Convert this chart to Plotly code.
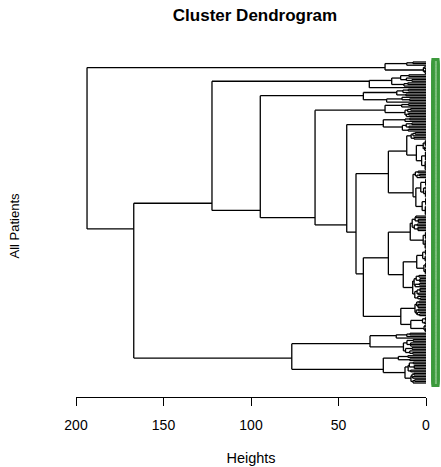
import plotly.graph_objects as go

# ---------------- DATA ----------------
# Leaf clusters, Newick-like: "x" = one patient, "(a,b,...)h" = merge at height h
cluster_A = "(((x,x)7.5,x)11.0,((x,x)1.0,(x,x,x)0.6)1.5)23.4"
cluster_E = "((((x,x)9.8,(x,(x,x)8.1)11.2)14.5,((x,x)10.4,x)12.6)19.6,x)32.4"
cluster_G = "((((x,x)10.1,x)13.2,(x,x)11.5)16.7,((x,(x,x)9.4)13.7,x)22.5)35.8"
cluster_I = "(((x,x)10.0,x)13.9,(((x,x)8.8,x)10.5,((x,x)9.9,x)11.2)12.0)23.4"
cluster_P = "(((x,x)9.3,x)12.0,(((x,x)8.1,(x,x)9.7)11.3,(x,x)10.2)13.5)24.4"
cluster_O = ("(((((x,x)6.2,x)7.5,(x,x)6.9)8.5,(((x,x,x,x)0.4,(x,x,x)0.8)1.6,((x,x,x,x,x,x)0.3,"
             "(x,x,x,x,x,x)0.5)2.5)5.5)11.0,(((x,x)4.5,((x,x)3.6,x)5.2)6.1,(((x,x,x,x,x)0.2,"
             "((x,x)0.5,(x,x,x,x,x)0.3)1.4)3.0,((x,x,x,x,x)0.2,(x,x,x,x,x,x)0.4)2.2)5.8)7.4)21.5")
cluster_M = ("(((((x,x)5.8,(x,x,x)4.4)6.2,((x,x)5.0,(x,x,x)4.6)6.7)7.9,((x,x,x,x,x)0.3,"
             "(x,x,x,x,x,x)0.5)1.6)9.0,((((x,x,x,x)0.3,(x,x,x,x)0.5)1.9,((x,x,x,x)0.2,"
             "(x,x,x,x)0.4)1.2)5.3,((((x,x)4.1,(x,x,x)3.5)5.6,((x,x)3.8,x)6.2)6.8,"
             "(((x,x,x)3.4,(x,x)4.3)5.1,(x,(x,x)3.3)4.7)6.4)7.6)13.0)21.5")
cluster_N = ("((((x,x)3.9,(x,x,x)4.6)5.3,((x,x)4.4,(x,(x,x)3.7)4.9)5.6)6.3,"
             "(((x,x,x)0.3,(x,x)0.8)2.0,((x,x)0.5,(x,x,x)0.4)1.1)8.7)14.4")
cluster_Q = ("((((x,x)9.1,x)11.0,x)17.0,(((x,x)7.4,(x,x,x)8.8)10.9,"
             "((x,x)8.0,(x,(x,x)7.6)9.3)11.7)12.9)32.0")
cluster_R = ("(((x,x)10.4,(x,x)9.3)15.8,((((x,x)7.2,(x,x,x)6.7)9.5,(x,x)8.8)10.2,"
             "(((x,x)6.9,(x,x)7.6)8.0,((x,x)6.5,x)7.4)8.6)12.0)24.4")

# Upper merges of the tree (merge table)
skel_name = ["L", "K", "J", "H", "F", "C", "D", "B", "root"]
skel_left = ["M", "O", "P", "I", "G", "E", "Q", "C", "A"]
skel_right = ["N", "L", "K", "J", "H", "F", "R", "D", "B"]
skel_height = [35.8, 40.0, 45.3, 63.4, 94.7, 122.3, 76.7, 167.0, 193.7]

x_ticks = [200, 150, 100, 50, 0]

# ---------------- BUILD TREE ----------------
def parse(s):
    pos = 0

    def node():
        nonlocal pos
        if s[pos] == "x":
            pos += 1
            return {"h": 0.0, "kids": []}
        pos += 1  # '('
        kids = [node()]
        while s[pos] == ",":
            pos += 1
            kids.append(node())
        pos += 1  # ')'
        st = pos
        while pos < len(s) and (s[pos].isdigit() or s[pos] == "."):
            pos += 1
        return {"h": float(s[st:pos]), "kids": kids}

    return node()


trees = {
    "A": parse(cluster_A), "E": parse(cluster_E), "G": parse(cluster_G),
    "I": parse(cluster_I), "P": parse(cluster_P), "O": parse(cluster_O),
    "M": parse(cluster_M), "N": parse(cluster_N), "Q": parse(cluster_Q),
    "R": parse(cluster_R),
}
for nm, lf, rt, hh in zip(skel_name, skel_left, skel_right, skel_height):
    trees[nm] = {"h": hh, "kids": [trees[lf], trees[rt]]}
root = trees["root"]

leaf_counter = [0]


def place(n):
    if not n["kids"]:
        n["first"] = n["last"] = leaf_counter[0]
        leaf_counter[0] += 1
    else:
        for k in n["kids"]:
            place(k)
        n["first"] = n["kids"][0]["first"]
        n["last"] = n["kids"][-1]["last"]
    n["y"] = (n["first"] + n["last"]) / 2.0  # centred on its leaves


place(root)
n_leaves = leaf_counter[0]

xs, ys = [], []


def segs(n):
    if not n["kids"]:
        return
    ks = n["kids"]
    xs.extend([n["h"], n["h"], None])
    ys.extend([ks[0]["y"], ks[-1]["y"], None])
    for k in ks:
        xs.extend([n["h"], k["h"], None])
        ys.extend([k["y"], k["y"], None])
        segs(k)


segs(root)
leaf_y = list(range(n_leaves))

# ---------------- FIGURE ----------------
W, H = 441, 467
ML, MR, MT, MB = 76, 0, 55, 70
x0_px = 426  # pixel of height 0
main_frac = (x0_px - ML) / (W - ML - MR)
top_leaf_px, bot_leaf_px = 62, 383
per_px = (n_leaves - 1) / (bot_leaf_px - top_leaf_px)
y_top = 0 - (top_leaf_px - MT) * per_px
y_bot = (n_leaves - 1) + ((H - MB) - bot_leaf_px) * per_px

fig = go.Figure()
fig.add_trace(go.Scatter(
    x=xs, y=ys, mode="lines", line=dict(color="black", width=1.3),
    hoverinfo="skip", cliponaxis=False, showlegend=False))
# leaf labels band (very dense, overlapping)
fig.add_trace(go.Scatter(
    x=[0.63] * n_leaves, y=leaf_y, mode="markers", xaxis="x2",
    marker=dict(symbol="square", size=8, color="#3c9a3c", line=dict(width=0)),
    cliponaxis=False, showlegend=False, hoverinfo="skip"))
fig.add_trace(go.Scatter(
    x=[0.66] * n_leaves, y=leaf_y, mode="markers", xaxis="x2",
    marker=dict(symbol="square", size=2, color="#7dbf7d", line=dict(width=0)),
    cliponaxis=False, showlegend=False, hoverinfo="skip"))

font = "Liberation Sans, Arial, sans-serif"
fig.update_layout(
    width=W, height=H, autosize=False,
    margin=dict(l=ML, r=MR, t=MT, b=MB),
    paper_bgcolor="white", plot_bgcolor="white",
    font=dict(family=font, color="black", size=14),
    title=dict(text="Cluster Dendrogram", x=255 / W, xref="container", xanchor="center",
               y=1 - 15 / H, yref="container", yanchor="middle",
               font=dict(size=17, weight="bold", family=font, color="black")),
    xaxis=dict(domain=[0, main_frac], range=[200, 0], tickvals=x_ticks,
               ticktext=[str(v) for v in x_ticks],
               showline=True, linecolor="black", linewidth=1, ticks="outside",
               ticklen=8, tickwidth=1, tickcolor="black", showgrid=False, zeroline=False,
               ticklabelstandoff=7, tickfont=dict(size=14),
               title=dict(text="Heights", standoff=21, font=dict(size=14.5)),
               automargin=False),
    xaxis2=dict(domain=[main_frac, 1], range=[0, 1], anchor="y", visible=False,
                showgrid=False, zeroline=False),
    yaxis=dict(range=[y_bot, y_top], showticklabels=False, showline=False, showgrid=False,
               zeroline=False, ticks="", automargin=False,
               title=dict(text="All Patients", standoff=52, font=dict(size=13))),
)
fig.write_html("out.html")
